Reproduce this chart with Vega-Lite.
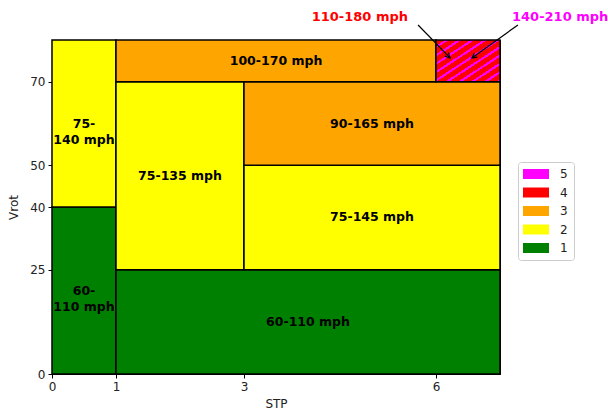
{
  "$schema": "https://vega.github.io/schema/vega-lite/v6.json",
  "width": 448,
  "height": 334,
  "autosize": {"type": "none"},
  "padding": {"left": 52, "top": 40, "right": 108, "bottom": 39},
  "background": "white",
  "config": {
    "font": "DejaVu Sans",
    "view": {"stroke": "black", "strokeWidth": 1},
    "axis": {
      "grid": false,
      "labelFont": "DejaVu Sans",
      "labelFontSize": 12,
      "labelColor": "#222",
      "labelFlush": false,
      "titleFont": "DejaVu Sans",
      "titleFontSize": 12,
      "titleFontWeight": "normal",
      "titleColor": "#222",
      "domainColor": "black",
      "tickColor": "black",
      "tickSize": 4,
      "labelPadding": 3
    },
    "legend": {
      "labelFont": "DejaVu Sans",
      "labelFontSize": 12,
      "labelColor": "#222"
    }
  },
  "datasets": {
    "cells": [
      {"x1": 0, "x2": 1, "y1": 0, "y2": 40, "cat": "1"},
      {"x1": 0, "x2": 1, "y1": 40, "y2": 80, "cat": "2"},
      {"x1": 1, "x2": 7, "y1": 0, "y2": 25, "cat": "1"},
      {"x1": 1, "x2": 3, "y1": 25, "y2": 70, "cat": "2"},
      {"x1": 3, "x2": 7, "y1": 25, "y2": 50, "cat": "2"},
      {"x1": 3, "x2": 7, "y1": 50, "y2": 70, "cat": "3"},
      {"x1": 1, "x2": 6, "y1": 70, "y2": 80, "cat": "3"}
    ],
    "labels": [
      {"x": 0.5, "y": 60, "label": "75-\n140 mph"},
      {"x": 0.5, "y": 20, "label": "60-\n110 mph"},
      {"x": 3.5, "y": 75, "label": "100-170 mph"},
      {"x": 2, "y": 47.5, "label": "75-135 mph"},
      {"x": 5, "y": 60, "label": "90-165 mph"},
      {"x": 5, "y": 37.5, "label": "75-145 mph"},
      {"x": 4, "y": 12.5, "label": "60-110 mph"}
    ]
  },
  "layer": [
    {
      "data": {"name": "cells"},
      "mark": {"type": "rect", "stroke": "black", "strokeWidth": 1.5},
      "encoding": {
        "x": {"field": "x1", "type": "quantitative", "scale": {"domain": [0, 7], "nice": false, "zero": false},
              "axis": {"values": [0, 1, 3, 6], "format": "d", "title": "STP", "titlePadding": 6}},
        "x2": {"field": "x2"},
        "y": {"field": "y1", "type": "quantitative", "scale": {"domain": [0, 80], "nice": false, "zero": false},
              "axis": {"values": [0, 25, 40, 50, 70], "format": "d", "title": "Vrot", "titlePadding": 9}},
        "y2": {"field": "y2"},
        "color": {"field": "cat", "type": "nominal",
                  "scale": {"domain": ["5", "4", "3", "2", "1"], "range": ["#ff00ff", "#ff0000", "#ffa500", "#ffff00", "#008000"]},
                  "legend": {"title": null, "orient": "none", "legendX": 466, "legendY": 122,
                             "symbolType": "M-2.6,-1L2.6,-1L2.6,1L-2.6,1Z", "symbolSize": 100,
                             "symbolStrokeWidth": 0, "symbolOpacity": 1, "symbolOffset": 6,
                             "labelOffset": 18, "rowPadding": 6.5,
                             "padding": 6, "strokeColor": "#cccccc", "cornerRadius": 3, "fillColor": "white"}}
      }
    },
    {
      "data": {"values": [{"x1": 6, "x2": 7, "y1": 70, "y2": 80}]},
      "mark": {"type": "rect", "stroke": "black", "strokeWidth": 1.5,
               "fill": {"gradient": "linear", "x1": 0, "y1": 0, "x2": 1, "y2": 1,
                        "stops": [
                          {"offset": 0.0, "color": "#ff0000"}, {"offset": 0.07, "color": "#ff0000"}, {"offset": 0.07, "color": "#ff00ff"}, {"offset": 0.1, "color": "#ff00ff"},
                          {"offset": 0.1, "color": "#ff0000"}, {"offset": 0.17, "color": "#ff0000"}, {"offset": 0.17, "color": "#ff00ff"}, {"offset": 0.2, "color": "#ff00ff"},
                          {"offset": 0.2, "color": "#ff0000"}, {"offset": 0.27, "color": "#ff0000"}, {"offset": 0.27, "color": "#ff00ff"}, {"offset": 0.3, "color": "#ff00ff"},
                          {"offset": 0.3, "color": "#ff0000"}, {"offset": 0.37, "color": "#ff0000"}, {"offset": 0.37, "color": "#ff00ff"}, {"offset": 0.4, "color": "#ff00ff"},
                          {"offset": 0.4, "color": "#ff0000"}, {"offset": 0.47, "color": "#ff0000"}, {"offset": 0.47, "color": "#ff00ff"}, {"offset": 0.5, "color": "#ff00ff"},
                          {"offset": 0.5, "color": "#ff0000"}, {"offset": 0.57, "color": "#ff0000"}, {"offset": 0.57, "color": "#ff00ff"}, {"offset": 0.6, "color": "#ff00ff"},
                          {"offset": 0.6, "color": "#ff0000"}, {"offset": 0.67, "color": "#ff0000"}, {"offset": 0.67, "color": "#ff00ff"}, {"offset": 0.7, "color": "#ff00ff"},
                          {"offset": 0.7, "color": "#ff0000"}, {"offset": 0.77, "color": "#ff0000"}, {"offset": 0.77, "color": "#ff00ff"}, {"offset": 0.8, "color": "#ff00ff"},
                          {"offset": 0.8, "color": "#ff0000"}, {"offset": 0.87, "color": "#ff0000"}, {"offset": 0.87, "color": "#ff00ff"}, {"offset": 0.9, "color": "#ff00ff"},
                          {"offset": 0.9, "color": "#ff0000"}, {"offset": 0.97, "color": "#ff0000"}, {"offset": 0.97, "color": "#ff00ff"}, {"offset": 1.0, "color": "#ff00ff"}
                        ]}},
      "encoding": {
        "x": {"field": "x1", "type": "quantitative"},
        "x2": {"field": "x2"},
        "y": {"field": "y1", "type": "quantitative"},
        "y2": {"field": "y2"}
      }
    },
    {
      "data": {"name": "labels"},
      "mark": {"type": "text", "fontWeight": "bold", "fontSize": 12.5, "color": "black", "lineBreak": "\n", "baseline": "middle", "align": "center", "lineHeight": 16},
      "encoding": {
        "x": {"field": "x", "type": "quantitative"},
        "y": {"field": "y", "type": "quantitative"},
        "text": {"field": "label"}
      }
    },
    {
      "data": {"values": [{"x": 4.81, "y": 85.5, "label": "110-180 mph"}]},
      "mark": {"type": "text", "fontWeight": "bold", "fontSize": 13, "color": "#ff0000", "baseline": "middle", "align": "center"},
      "encoding": {
        "x": {"field": "x", "type": "quantitative"},
        "y": {"field": "y", "type": "quantitative"},
        "text": {"field": "label"}
      }
    },
    {
      "data": {"values": [{"x": 7.94, "y": 85.5, "label": "140-210 mph"}]},
      "mark": {"type": "text", "fontWeight": "bold", "fontSize": 13, "color": "#ff00ff", "baseline": "middle", "align": "center"},
      "encoding": {
        "x": {"field": "x", "type": "quantitative"},
        "y": {"field": "y", "type": "quantitative"},
        "text": {"field": "label"}
      }
    },
    {
      "data": {"values": [
        {"xs": 5.72, "ys": 83.6, "xe": 6.22, "ye": 75.7},
        {"xs": 7.28, "ys": 83.6, "xe": 6.56, "ye": 75.7}
      ]},
      "mark": {"type": "rule", "color": "black", "strokeWidth": 1.2},
      "encoding": {
        "x": {"field": "xs", "type": "quantitative"},
        "y": {"field": "ys", "type": "quantitative"},
        "x2": {"field": "xe"},
        "y2": {"field": "ye"}
      }
    },
    {
      "data": {"values": [{"xe": 6.22, "ye": 75.7}]},
      "mark": {"type": "point", "shape": "M-0.5,1L0,0L0.5,1", "filled": false, "stroke": "black", "strokeWidth": 1.2, "size": 100, "angle": 136, "opacity": 1},
      "encoding": {
        "x": {"field": "xe", "type": "quantitative"},
        "y": {"field": "ye", "type": "quantitative"}
      }
    },
    {
      "data": {"values": [{"xe": 6.56, "ye": 75.7}]},
      "mark": {"type": "point", "shape": "M-0.5,1L0,0L0.5,1", "filled": false, "stroke": "black", "strokeWidth": 1.2, "size": 100, "angle": 234, "opacity": 1},
      "encoding": {
        "x": {"field": "xe", "type": "quantitative"},
        "y": {"field": "ye", "type": "quantitative"}
      }
    }
  ]
}
